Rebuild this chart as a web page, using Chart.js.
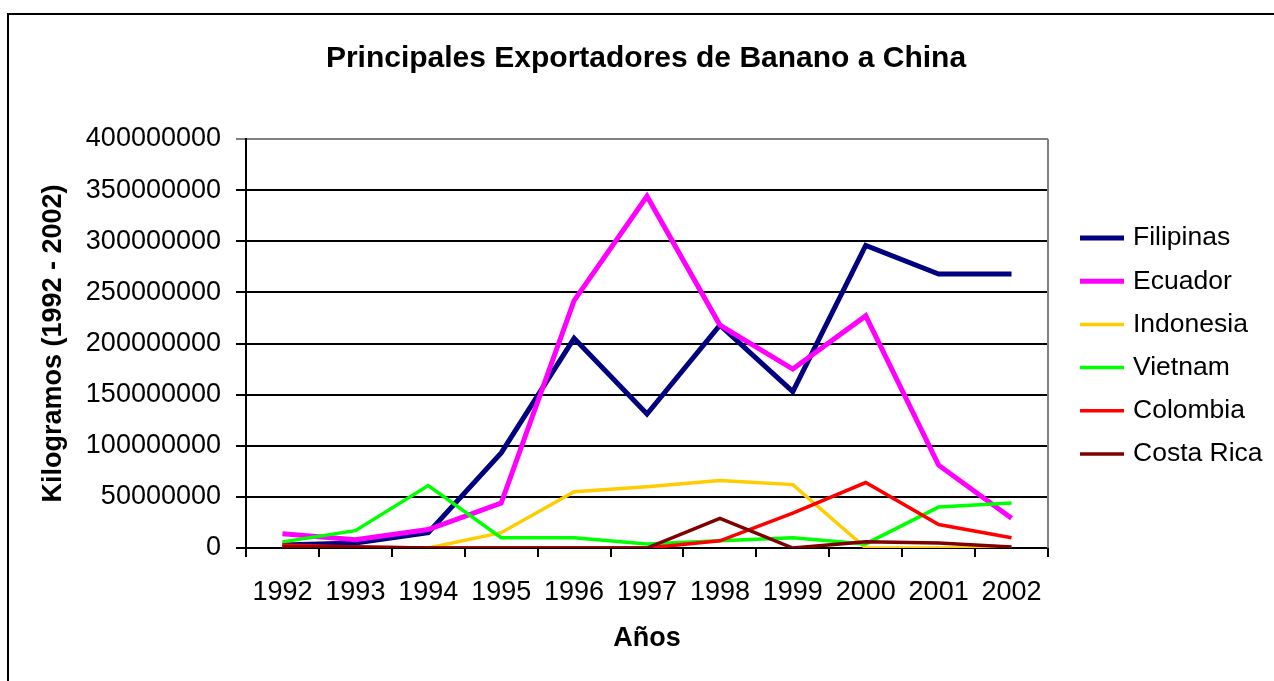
<!DOCTYPE html>
<html lang="es">
<head>
    <meta charset="UTF-8">
    <title>Principales Exportadores de Banano a China</title>
    <script src="https://cdn.jsdelivr.net/npm/chart.js"></script>
    <style>
        body {
            margin: 0;
            padding: 0;
            background-color: #ffffff;
        }

        .chart-container {
            position: relative;
            width: 1274px;
            height: 681px;
        }
    </style>
</head>
<body>
    <div class="chart-container">
        <canvas id="bananaChart"></canvas>
    </div>

    <script>
        // Data (kilogramos)
        const years = ['1992', '1993', '1994', '1995', '1996', '1997', '1998', '1999', '2000', '2001', '2002'];
        const filipinas = [3e6, 5e6, 15e6, 93e6, 205e6, 131e6, 218e6, 153e6, 296e6, 268e6, 268e6];
        const ecuador = [14e6, 8e6, 18e6, 44e6, 242e6, 344e6, 218e6, 175e6, 227e6, 81e6, 29e6];
        const indonesia = [0, 0, 0, 15e6, 55e6, 60e6, 66e6, 62e6, 0, 0, 0];
        const vietnam = [6e6, 17e6, 61e6, 10e6, 10e6, 4e6, 7e6, 10e6, 4e6, 40e6, 44e6];
        const colombia = [3e6, 1e6, 0, 0, 0, 0, 7e6, 34e6, 64e6, 23e6, 10e6];
        const costaRica = [1e6, 1e6, 0, 0, 0, 0, 29e6, 0, 6e6, 5e6, 1e6];
        const yTicks = [0, 50e6, 100e6, 150e6, 200e6, 250e6, 300e6, 350e6, 400e6];

        const seriesNames = ['Filipinas', 'Ecuador', 'Indonesia', 'Vietnam', 'Colombia', 'Costa Rica'];
        const seriesData = [filipinas, ecuador, indonesia, vietnam, colombia, costaRica];
        const seriesColors = ['#000080', '#ff00ff', '#ffcc00', '#00ff00', '#ff0000', '#800000'];
        const seriesWidths = [5, 5, 3.5, 3.5, 3.5, 3.5];

        Chart.defaults.font.family = '"Liberation Sans", Arial, sans-serif';
        Chart.defaults.color = '#000';

        // Frame, gray plot border and legend drawn by hand
        const decor = {
            id: 'decor',
            beforeDatasetsDraw(chart) {
                const { ctx, chartArea } = chart;
                ctx.save();
                ctx.strokeStyle = '#808080';
                ctx.lineWidth = 2;
                ctx.beginPath();
                ctx.moveTo(chartArea.right, chartArea.top);
                ctx.lineTo(chartArea.right, chartArea.bottom);
                ctx.stroke();
                ctx.restore();
            },
            afterDraw(chart) {
                const { ctx } = chart;
                ctx.save();
                // outer frame (top and left edges only visible)
                ctx.strokeStyle = '#000';
                ctx.lineWidth = 2;
                ctx.beginPath();
                ctx.moveTo(1274, 14);
                ctx.lineTo(8, 14);
                ctx.lineTo(8, 681);
                ctx.stroke();

                // legend
                ctx.font = '26.5px "Liberation Sans", Arial, sans-serif';
                ctx.textBaseline = 'middle';
                ctx.textAlign = 'left';
                chart.data.datasets.forEach((ds, i) => {
                    const y = 238 + i * 43.2;
                    ctx.strokeStyle = ds.borderColor;
                    ctx.lineWidth = ds.borderWidth;
                    ctx.beginPath();
                    ctx.moveTo(1080, y);
                    ctx.lineTo(1124, y);
                    ctx.stroke();
                    ctx.fillStyle = '#000';
                    ctx.fillText(ds.label, 1133, y);
                });
                ctx.restore();
            }
        };

        const ctx = document.getElementById('bananaChart').getContext('2d');
        const bananaChart = new Chart(ctx, {
            type: 'line',
            data: {
                labels: years,
                datasets: seriesNames.map((name, i) => ({
                    label: name,
                    data: seriesData[i],
                    borderColor: seriesColors[i],
                    backgroundColor: seriesColors[i],
                    borderWidth: seriesWidths[i],
                    pointRadius: 0,
                    tension: 0,
                    fill: false,
                    order: seriesNames.length - i
                }))
            },
            options: {
                responsive: true,
                maintainAspectRatio: false,
                animation: false,
                layout: {
                    padding: { left: 18, right: 0, top: 0, bottom: 0 }
                },
                plugins: {
                    legend: { display: false },
                    tooltip: { enabled: false },
                    title: {
                        display: true,
                        text: 'Principales Exportadores de Banano a China',
                        color: '#000',
                        font: { size: 30, weight: 'bold' },
                        padding: { top: 41, bottom: 62 }
                    }
                },
                scales: {
                    x: {
                        offset: true,
                        ticks: {
                            color: '#000',
                            font: { size: 27 },
                            padding: 19,
                            maxRotation: 0,
                            autoSkip: false
                        },
                        grid: {
                            offset: true,
                            drawOnChartArea: false,
                            drawTicks: true,
                            tickLength: 9,
                            color: '#000',
                            lineWidth: 2
                        },
                        border: { display: true, color: '#000', width: 2 },
                        title: {
                            display: true,
                            text: 'Años',
                            color: '#000',
                            font: { size: 27, weight: 'bold' },
                            padding: { top: 0, bottom: 26 }
                        },
                        afterFit: s => { s.height = 133; }
                    },
                    y: {
                        min: 0,
                        max: 400e6,
                        afterBuildTicks: s => { s.ticks = yTicks.map(v => ({ value: v })); },
                        ticks: {
                            color: '#000',
                            font: { size: 27 },
                            padding: 15,
                            callback: v => String(v)
                        },
                        grid: {
                            color: c => (c.tick && c.tick.value === 400e6) ? '#808080' : '#000',
                            lineWidth: 2,
                            tickLength: 10,
                            drawTicks: true
                        },
                        border: { display: true, color: '#000', width: 2 },
                        title: {
                            display: true,
                            text: 'Kilogramos (1992 - 2002)',
                            color: '#000',
                            font: { size: 27, weight: 'bold' },
                            padding: { top: 19, bottom: 0 }
                        },
                        afterFit: s => { s.width = 228; }
                    },
                    yR: {
                        position: 'right',
                        display: true,
                        grid: { display: false },
                        ticks: { display: false },
                        border: { display: false },
                        afterFit: s => { s.width = 226; }
                    }
                }
            },
            plugins: [decor]
        });
    </script>
</body>
</html>
